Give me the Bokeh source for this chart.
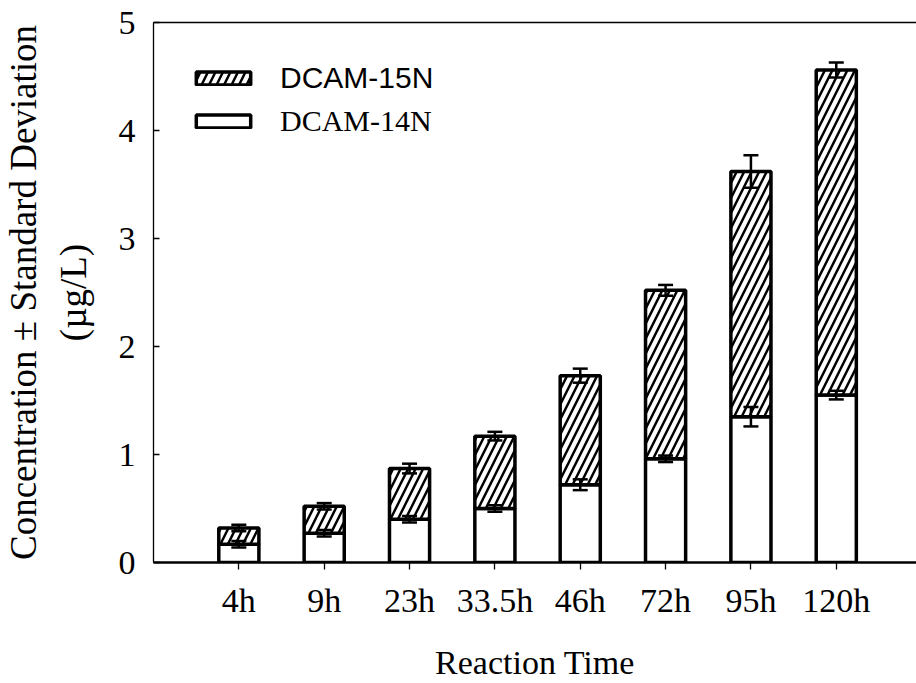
from bokeh.plotting import figure
from bokeh.models import (ColumnDataSource, Range1d, FixedTicker, LinearAxis, Whisker,
                          TeeHead, Legend, LegendItem)
from bokeh.embed import file_html
from bokeh.resources import INLINE

# ---- data ----
times = ["4h", "9h", "23h", "33.5h", "46h", "72h", "95h", "120h"]
dcam14 = [0.17, 0.27, 0.40, 0.50, 0.72, 0.96, 1.35, 1.55]
dcam15 = [0.15, 0.25, 0.47, 0.67, 1.01, 1.56, 2.27, 3.01]
sd14 = [0.03, 0.03, 0.03, 0.03, 0.05, 0.03, 0.09, 0.04]
sd_total = [0.03, 0.03, 0.045, 0.04, 0.065, 0.05, 0.15, 0.07]
y_ticks = [0, 1, 2, 3, 4, 5]

xs = list(range(1, len(times) + 1))
totals = [a + b for a, b in zip(dcam14, dcam15)]

src14 = ColumnDataSource(dict(x=xs, bottom=[0] * len(xs), top=dcam14,
                              upper=[v + e for v, e in zip(dcam14, sd14)],
                              lower=[v - e for v, e in zip(dcam14, sd14)]))
src15 = ColumnDataSource(dict(x=xs, bottom=dcam14, top=totals,
                              upper=[v + e for v, e in zip(totals, sd_total)],
                              lower=[v - e for v, e in zip(totals, sd_total)]))

SERIF = "Liberation Serif"
SANS = "Liberation Sans"

p = figure(width=916, height=683, output_backend="svg", toolbar_location=None,
           x_range=Range1d(0, 8.94), y_range=Range1d(0, 5),
           min_border_left=150, min_border_right=0, min_border_top=22,
           min_border_bottom=118)
p.outline_line_color = None
p.grid.visible = False
p.background_fill_color = "white"
p.border_fill_color = "white"

r14 = p.vbar(x="x", bottom="bottom", top="top", width=0.47, source=src14,
             fill_color="white", line_color="black", line_width=3.5)
r15 = p.vbar(x="x", bottom="bottom", top="top", width=0.47, source=src15,
             fill_color="white", line_color="black", line_width=3.5,
             hatch_pattern="/", hatch_color="black", hatch_weight=2.5, hatch_scale=15)

for s in (src14, src15):
    p.add_layout(Whisker(base="x", upper="upper", lower="lower", source=s,
                         level="annotation",
                         line_color="black", line_width=2.5,
                         upper_head=TeeHead(size=15, line_width=2.5, line_color="black"),
                         lower_head=TeeHead(size=15, line_width=2.5, line_color="black")))

# x axis
xa = p.xaxis[0]
xa.ticker = FixedTicker(ticks=xs)
xa.major_label_overrides = {x: t for x, t in zip(xs, times)}
xa.axis_label = "Reaction Time"
xa.axis_line_width = 2.5
xa.major_tick_out = 7
xa.major_tick_in = 0
xa.minor_tick_line_color = None
xa.major_tick_line_width = 1.3
xa.major_label_standoff = 12
xa.axis_label_standoff = 22

# y axis
ya = p.yaxis[0]
ya.ticker = FixedTicker(ticks=y_ticks)
ya.axis_label = "Concentration \u00b1 Standard Deviation\n(\u00b5g/L)"
ya.axis_line_width = 1.3
ya.major_tick_out = 0
ya.major_tick_in = 6
ya.minor_tick_line_color = None
ya.major_tick_line_width = 1.3
ya.major_label_standoff = 18
ya.axis_label_standoff = 22

for ax in (xa, ya):
    ax.axis_line_color = "black"
    ax.major_tick_line_color = "black"
    ax.major_label_text_font = SERIF
    ax.major_label_text_font_size = "34px"
    ax.major_label_text_color = "black"
    ax.axis_label_text_font = SERIF
    ax.axis_label_text_font_style = "normal"
    ax.axis_label_text_color = "black"
xa.axis_label_text_font_size = "34px"
ya.axis_label_text_font_size = "37px"

# top frame line (no ticks, no labels)
top = LinearAxis(ticker=FixedTicker(ticks=[]), axis_line_color="black", axis_line_width=1.3,
                 major_tick_line_color=None, minor_tick_line_color=None)
p.add_layout(top, "above")

leg1 = Legend(items=[LegendItem(label="DCAM-15N", renderers=[r15])],
              location=(36, 467), glyph_width=68, glyph_height=16,
              label_standoff=23, padding=0, margin=0, spacing=0,
              label_text_font=SANS, label_text_font_size="30px", label_text_color="black",
              background_fill_alpha=0, border_line_color=None)
leg2 = Legend(items=[LegendItem(label="DCAM-14N", renderers=[r14])],
              location=(36, 424), glyph_width=68, glyph_height=16,
              label_standoff=23, padding=0, margin=0, spacing=0,
              label_text_font=SERIF, label_text_font_size="30px", label_text_color="black",
              background_fill_alpha=0, border_line_color=None)
p.add_layout(leg1, "center")
p.add_layout(leg2, "center")

open("out.html", "w").write(file_html(p, INLINE))
